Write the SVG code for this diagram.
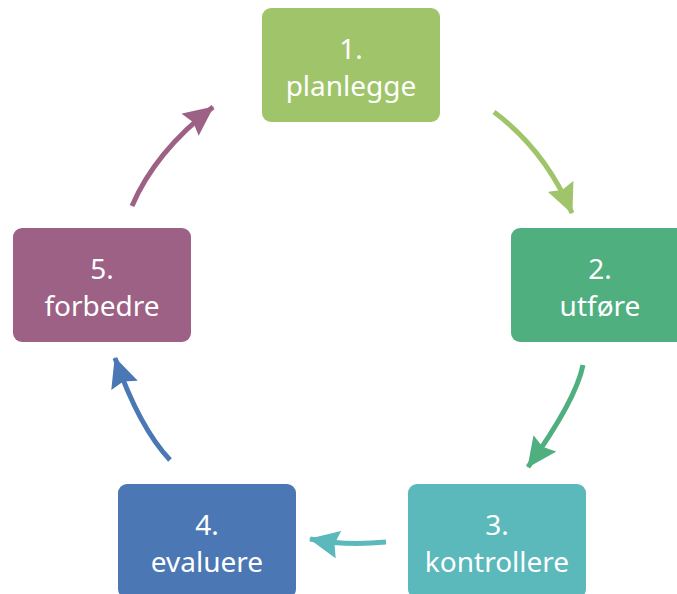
<svg xmlns="http://www.w3.org/2000/svg" width="677" height="594" viewBox="0 0 677 594">
<style>
.box{stroke:none}
.lbl{font-family:"Noto Sans","Open Sans",sans-serif;font-size:28px;fill:#ffffff;text-anchor:middle}
.conn{fill:none;stroke-width:5;stroke-linecap:butt}
</style>
<defs>
<marker id="m1" markerUnits="userSpaceOnUse" markerWidth="30" markerHeight="28" refX="29" refY="14" orient="auto" viewBox="0 0 30 28"><path d="M0,0 L30,14 L0,28 L4,14 z" fill="#a0c46a"/></marker>
<marker id="m2" markerUnits="userSpaceOnUse" markerWidth="30" markerHeight="28" refX="29" refY="14" orient="auto" viewBox="0 0 30 28"><path d="M0,0 L30,14 L0,28 L4,14 z" fill="#4faf7f"/></marker>
<marker id="m3" markerUnits="userSpaceOnUse" markerWidth="30" markerHeight="28" refX="29" refY="14" orient="auto" viewBox="0 0 30 28"><path d="M0,0 L30,14 L0,28 L4,14 z" fill="#5bb8bb"/></marker>
<marker id="m4" markerUnits="userSpaceOnUse" markerWidth="30" markerHeight="28" refX="29" refY="14" orient="auto" viewBox="0 0 30 28"><path d="M0,0 L30,14 L0,28 L4,14 z" fill="#4b78b4"/></marker>
<marker id="m5" markerUnits="userSpaceOnUse" markerWidth="30" markerHeight="28" refX="29" refY="14" orient="auto" viewBox="0 0 30 28"><path d="M0,0 L30,14 L0,28 L4,14 z" fill="#9c6184"/></marker>
</defs>
<g id="connectors">
<path class="conn" d="M494,112 Q545,150 572,213" stroke="#a0c46a" marker-end="url(#m1)"/>
<path class="conn" d="M583,365 Q576,400 528,467" stroke="#4faf7f" marker-end="url(#m2)"/>
<path class="conn" d="M386,542 Q345,546 310,539" stroke="#5bb8bb" marker-end="url(#m3)"/>
<path class="conn" d="M170,460 Q139,427 115,358" stroke="#4b78b4" marker-end="url(#m4)"/>
<path class="conn" d="M132,206 Q155,152 213,107" stroke="#9c6184" marker-end="url(#m5)"/>
</g>
<g id="node1"><rect class="box" x="262" y="8" width="178" height="114" rx="9" fill="#a0c46a"/><text class="lbl" x="351" y="59">1.</text><text class="lbl" x="351" y="96">planlegge</text></g>
<g id="node2"><rect class="box" x="511" y="228" width="178" height="114" rx="9" fill="#4faf7f"/><text class="lbl" x="600" y="279">2.</text><text class="lbl" x="600" y="316">utføre</text></g>
<g id="node3"><rect class="box" x="408" y="484" width="178" height="114" rx="9" fill="#5bb8bb"/><text class="lbl" x="497" y="535">3.</text><text class="lbl" x="497" y="572">kontrollere</text></g>
<g id="node4"><rect class="box" x="118" y="484" width="178" height="114" rx="9" fill="#4b78b4"/><text class="lbl" x="207" y="535">4.</text><text class="lbl" x="207" y="572">evaluere</text></g>
<g id="node5"><rect class="box" x="13" y="228" width="178" height="114" rx="9" fill="#9c6184"/><text class="lbl" x="102" y="279">5.</text><text class="lbl" x="102" y="316">forbedre</text></g>
</svg>
